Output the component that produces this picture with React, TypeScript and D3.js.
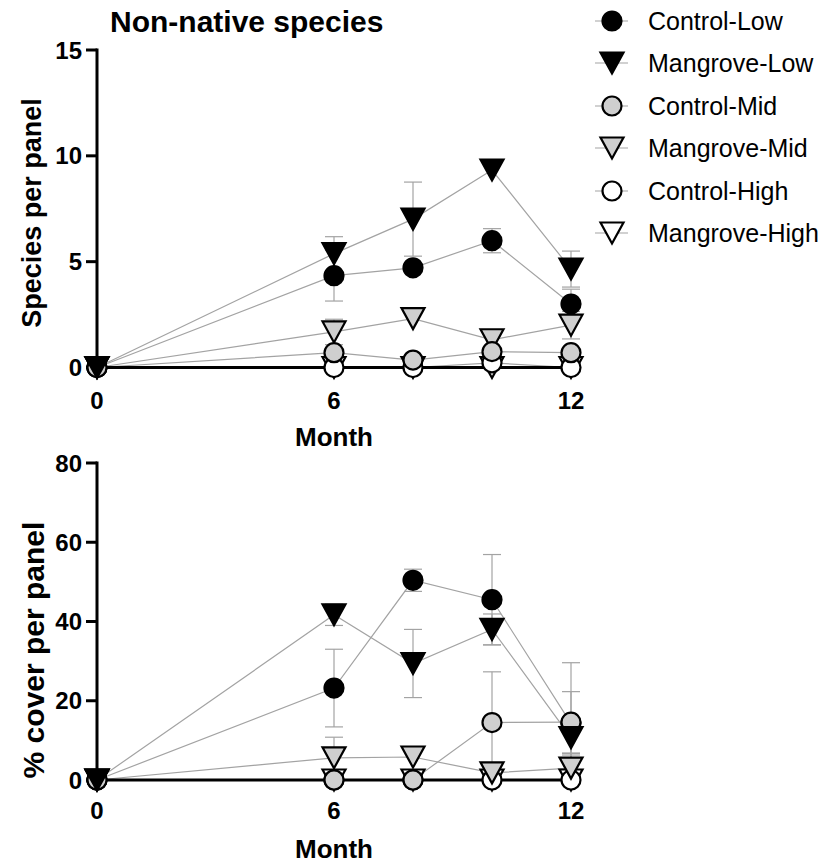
import React from "react";
import * as d3 from "d3";

const months = [0, 6, 8, 10, 12];
const xTickValues = [0, 6, 12];
const speciesTicks = [0, 5, 10, 15];
const coverTicks = [0, 20, 40, 60, 80];
const seriesNames = ["Control-Low", "Mangrove-Low", "Control-Mid", "Mangrove-Mid", "Control-High", "Mangrove-High"];

// Species per panel
const controlLowSpecies = [0, 4.34, 4.71, 5.99, 3.0];
const controlLowSpeciesErr = [0, 1.2, 0, 0.57, 0.7];
const mangroveLowSpecies = [0, 5.38, 7.01, 9.33, 4.65];
const mangroveLowSpeciesErr = [0, 0.8, 1.75, 0, 0.85];
const controlMidSpecies = [0, 0.7, 0.35, 0.75, 0.7];
const controlMidSpeciesErr = [0, 0, 0, 0, 0];
const mangroveMidSpecies = [0, 1.68, 2.31, 1.31, 2.0];
const mangroveMidSpeciesErr = [0, 0.6, 0, 0, 0.65];
const controlHighSpecies = [0, 0, 0, 0.22, 0];
const controlHighSpeciesErr = [0, 0, 0, 0, 0];
const mangroveHighSpecies = [0, 0, 0, 0, 0];
const mangroveHighSpeciesErr = [0, 0, 0, 0, 0];

// % cover per panel
const controlLowCover = [0, 23.2, 50.4, 45.5, 14.3];
const controlLowCoverErr = [0, 9.8, 2.8, 11.4, 8];
const mangroveLowCover = [0, 41.7, 29.4, 38, 10.7];
const mangroveLowCoverErr = [0, 2.7, 8.6, 3.9, 4];
const controlMidCover = [0, 0, 0, 14.5, 14.6];
const controlMidCoverErr = [0, 0, 0, 12.8, 15];
const mangroveMidCover = [0, 5.6, 5.8, 1.8, 3.0];
const mangroveMidCoverErr = [0, 5.2, 0, 0, 3.8];
const controlHighCover = [0, 0, 0, 0, 0];
const controlHighCoverErr = [0, 0, 0, 0, 0];
const mangroveHighCover = [0, 0, 0, 0, 0];
const mangroveHighCoverErr = [0, 0, 0, 0, 0];

type Style = { shape: "circle" | "tri"; fill: string };
const styles: Record<string, Style> = {
  "Control-Low": { shape: "circle", fill: "#000" },
  "Mangrove-Low": { shape: "tri", fill: "#000" },
  "Control-Mid": { shape: "circle", fill: "#cfcfcf" },
  "Mangrove-Mid": { shape: "tri", fill: "#cfcfcf" },
  "Control-High": { shape: "circle", fill: "#fff" },
  "Mangrove-High": { shape: "tri", fill: "#fff" },
};

const speciesSeries: Record<string, [number[], number[]]> = {
  "Control-Low": [controlLowSpecies, controlLowSpeciesErr],
  "Mangrove-Low": [mangroveLowSpecies, mangroveLowSpeciesErr],
  "Control-Mid": [controlMidSpecies, controlMidSpeciesErr],
  "Mangrove-Mid": [mangroveMidSpecies, mangroveMidSpeciesErr],
  "Control-High": [controlHighSpecies, controlHighSpeciesErr],
  "Mangrove-High": [mangroveHighSpecies, mangroveHighSpeciesErr],
};
const coverSeries: Record<string, [number[], number[]]> = {
  "Control-Low": [controlLowCover, controlLowCoverErr],
  "Mangrove-Low": [mangroveLowCover, mangroveLowCoverErr],
  "Control-Mid": [controlMidCover, controlMidCoverErr],
  "Mangrove-Mid": [mangroveMidCover, mangroveMidCoverErr],
  "Control-High": [controlHighCover, controlHighCoverErr],
  "Mangrove-High": [mangroveHighCover, mangroveHighCoverErr],
};

const drawOrder = ["Mangrove-High", "Control-High", "Control-Low", "Mangrove-Mid", "Control-Mid", "Mangrove-Low"];

const FONT = "'Liberation Sans', Arial, Helvetica, sans-serif";
const LINE = "#a3a3a3";

function Marker({ name, x, y }: { name: string; x: number; y: number }) {
  const s = styles[name];
  if (s.shape === "circle") {
    return <circle cx={x} cy={y} r={9.5} fill={s.fill} stroke="#000" strokeWidth={2.2} />;
  }
  const w = 11.5, h = 10.5;
  const d = `M${x - w},${y - h}L${x + w},${y - h}L${x},${y + h}Z`;
  return <path d={d} fill={s.fill} stroke="#000" strokeWidth={2.2} strokeLinejoin="miter" />;
}

function Panel({
  series, yDomain, yRange, yTicks, yLabel, yLabelX, yLabelY, yLabelSize, xLabelY, xTickY,
}: {
  series: Record<string, [number[], number[]]>;
  yDomain: [number, number]; yRange: [number, number]; yTicks: number[];
  yLabel: string; yLabelX: number; yLabelY: number; yLabelSize: number; xLabelY: number; xTickY: number;
}) {
  const x = d3.scaleLinear().domain([0, 12]).range([97, 571]);
  const y = d3.scaleLinear().domain(yDomain).range(yRange);
  const line = d3.line<[number, number]>().x((d) => x(d[0])).y((d) => y(d[1]));
  const y0 = y(0);
  const capW = 9;
  return (
    <g>
      {drawOrder.map((name) => {
        const [vals, errs] = series[name];
        return (
          <g key={"e" + name} stroke={LINE} strokeWidth={1.2} fill="none">
            {months.map((m, i) =>
              errs[i] > 0 ? (
                <g key={i}>
                  <line x1={x(m)} x2={x(m)} y1={y(vals[i] - errs[i])} y2={y(vals[i] + errs[i])} />
                  <line x1={x(m) - capW} x2={x(m) + capW} y1={y(vals[i] + errs[i])} y2={y(vals[i] + errs[i])} />
                  <line x1={x(m) - capW} x2={x(m) + capW} y1={y(vals[i] - errs[i])} y2={y(vals[i] - errs[i])} />
                </g>
              ) : null
            )}
          </g>
        );
      })}
      {drawOrder.map((name) => {
        const [vals] = series[name];
        const pts = months.map((m, i) => [m, vals[i]] as [number, number]);
        return <path key={"l" + name} d={line(pts) || ""} fill="none" stroke={LINE} strokeWidth={1.2} />;
      })}
      <line x1={x(0)} x2={x(12)} y1={y0} y2={y0} stroke="#000" strokeWidth={3} />
      <line x1={x(0)} x2={x(0)} y1={y0 + 1.5} y2={y(yDomain[1]) - 1.5} stroke="#000" strokeWidth={3} />
      {yTicks.map((t) => (
        <g key={"yt" + t}>
          <line x1={x(0) - 11} x2={x(0)} y1={y(t)} y2={y(t)} stroke="#000" strokeWidth={3} />
          <text x={x(0) - 15} y={y(t) + 8.5} textAnchor="end" fontFamily={FONT} fontWeight="bold" fontSize={24}>{t}</text>
        </g>
      ))}
      {xTickValues.map((t) => (
        <g key={"xt" + t}>
          <line x1={x(t)} x2={x(t)} y1={y0} y2={y0 + 9} stroke="#000" strokeWidth={3} />
          <text x={x(t)} y={xTickY} textAnchor="middle" fontFamily={FONT} fontWeight="bold" fontSize={24}>{t}</text>
        </g>
      ))}
      {drawOrder.map((name) => {
        const [vals] = series[name];
        return (
          <g key={"m" + name}>
            {months.map((m, i) => (
              <Marker key={i} name={name} x={x(m)} y={y(vals[i])} />
            ))}
          </g>
        );
      })}
      <text x={334} y={xLabelY} textAnchor="middle" fontFamily={FONT} fontWeight="bold" fontSize={26}>Month</text>
      <text
        transform={`translate(${yLabelX},${yLabelY}) rotate(-90)`}
        textAnchor="middle" fontFamily={FONT} fontWeight="bold" fontSize={yLabelSize}
      >{yLabel}</text>
    </g>
  );
}

const legendRowsY = [21, 63, 106, 148, 191, 233];

export default function App() {
  return (
    <svg width={822} height={864} style={{ position: "absolute", left: 0, top: 0, background: "#fff" }}>
      <rect width={822} height={864} fill="#fff" />
      <text x={110} y={32} fontFamily={FONT} fontWeight="bold" fontSize={30}>Non-native species</text>
      <Panel
        series={speciesSeries} yDomain={[0, 15]} yRange={[367.5, 50]} yTicks={speciesTicks}
        yLabel="Species per panel" yLabelX={41} yLabelY={213} yLabelSize={27} xLabelY={446} xTickY={409}
      />
      <Panel
        series={coverSeries} yDomain={[0, 80]} yRange={[780, 463]} yTicks={coverTicks}
        yLabel="% cover per panel" yLabelX={44} yLabelY={650} yLabelSize={30} xLabelY={858} xTickY={819}
      />
      {seriesNames.map((name, i) => (
        <g key={name}>
          <line x1={595} x2={628} y1={legendRowsY[i]} y2={legendRowsY[i]} stroke={LINE} strokeWidth={1.2} />
          <Marker name={name} x={612} y={legendRowsY[i]} />
          <text x={648} y={legendRowsY[i] + 9} fontFamily={FONT} fontSize={25}>{name}</text>
        </g>
      ))}
    </svg>
  );
}
